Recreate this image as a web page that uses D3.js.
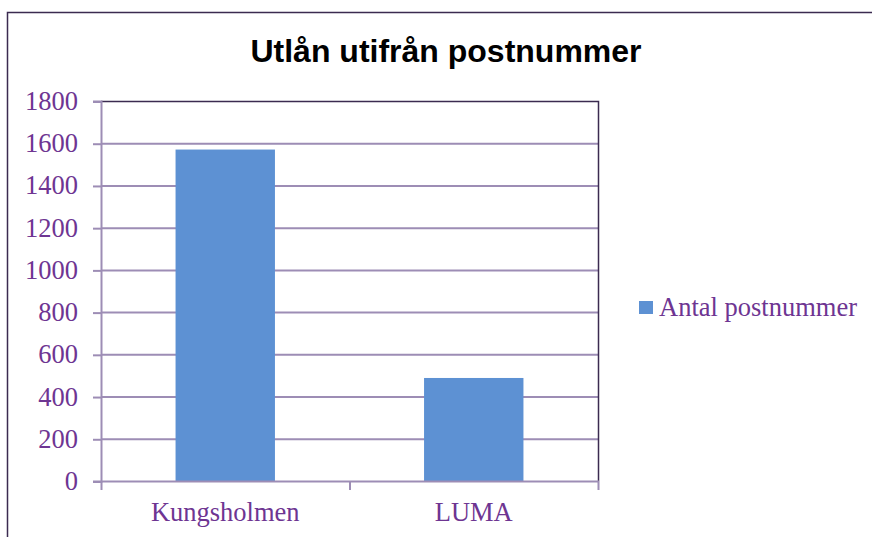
<!DOCTYPE html>
<html>
<head>
<meta charset="utf-8">
<script src="https://cdn.jsdelivr.net/npm/d3@7"></script>
<style>
  body { margin: 0; background: #fff; }
  svg { display: block; }
</style>
</head>
<body>
<div class="viz"></div>
<script>
const title = 'Utlån utifrån postnummer';
const categories = ['Kungsholmen', 'LUMA'];
const values = [1570, 488];
const seriesName = 'Antal postnummer';
const yTicks = [0, 200, 400, 600, 800, 1000, 1200, 1400, 1600, 1800];

const W = 872, H = 537;
const textColor = '#6e3592';
const gridColor = '#9d8db5';
const frameColor = '#3b2b50';
const barColor = '#5d91d3';

const svg = d3.select('.viz').append('svg')
    .attr('width', W)
    .attr('height', H);

// outer chart frame (runs off the right and bottom edge)
svg.append('rect')
    .attr('x', 7.5).attr('y', 12.5)
    .attr('width', W + 20).attr('height', H + 20)
    .attr('fill', 'none')
    .attr('stroke', frameColor)
    .attr('stroke-width', 1.5);

svg.append('text')
    .attr('x', 446).attr('y', 62)
    .attr('text-anchor', 'middle')
    .style('font-family', 'Liberation Sans, Arial, sans-serif')
    .style('font-weight', 'bold')
    .style('font-size', '32px')
    .text(title);

const plot = { left: 101, right: 598, top: 101, bottom: 481 };

const x = d3.scaleBand()
    .domain(categories)
    .range([plot.left, plot.right])
    .paddingInner(0.6)
    .paddingOuter(0.3);

const y = d3.scaleLinear()
    .domain([0, 1800])
    .range([plot.bottom, plot.top]);

const serif = 'Liberation Serif, Times New Roman, serif';
const labelSize = '26.5px';

// gridlines
svg.append('g')
    .selectAll('line')
    .data(yTicks.filter(d => d > 0 && d < 1800))
    .join('line')
    .attr('x1', plot.left).attr('x2', plot.right)
    .attr('y1', d => y(d) + 0.5).attr('y2', d => y(d) + 0.5)
    .attr('stroke', gridColor)
    .attr('stroke-width', 2);

// bars
svg.append('g')
    .selectAll('rect')
    .data(values)
    .join('rect')
    .attr('x', (d, i) => x(categories[i]))
    .attr('y', d => y(d))
    .attr('width', x.bandwidth())
    .attr('height', d => y(0) - y(d))
    .attr('fill', barColor);

// top and right frame of plot area
svg.append('path')
    .attr('d', `M${plot.left},${plot.top + 0.5}H${plot.right + 0.5}V${plot.bottom}`)
    .attr('fill', 'none')
    .attr('stroke', frameColor)
    .attr('stroke-width', 1.5);

// y axis
const yAxis = svg.append('g')
    .attr('transform', `translate(${plot.left},0)`)
    .call(d3.axisLeft(y).tickValues(yTicks).tickFormat(d3.format('d')).tickSize(8).tickPadding(15));
yAxis.select('.domain').attr('stroke', gridColor).attr('stroke-width', 2);
yAxis.selectAll('.tick line').attr('stroke', gridColor).attr('stroke-width', 2)
    .attr('transform', 'translate(0,0.5)');
yAxis.selectAll('.tick text')
    .attr('fill', textColor)
    .style('font-family', serif)
    .style('font-size', labelSize);

// x axis
const xEdges = d3.scaleLinear().domain([0, categories.length]).range([plot.left, plot.right]);
const xAxis = svg.append('g')
    .attr('transform', `translate(0,${plot.bottom})`);
xAxis.append('line')
    .attr('x1', plot.left).attr('x2', plot.right + 1)
    .attr('y1', 0.5).attr('y2', 0.5)
    .attr('stroke', gridColor).attr('stroke-width', 2);
xAxis.selectAll('.edge')
    .data(d3.range(categories.length + 1))
    .join('line')
    .attr('class', 'edge')
    .attr('x1', d => xEdges(d) + 0.5).attr('x2', d => xEdges(d) + 0.5)
    .attr('y1', 0).attr('y2', 9)
    .attr('stroke', gridColor).attr('stroke-width', 2);
xAxis.selectAll('.lab')
    .data(categories)
    .join('text')
    .attr('class', 'lab')
    .attr('x', d => x(d) + x.bandwidth() / 2)
    .attr('y', 40)
    .attr('text-anchor', 'middle')
    .attr('fill', textColor)
    .style('font-family', serif)
    .style('font-size', labelSize)
    .text(d => d);

// legend
const legend = svg.append('g').attr('transform', 'translate(639,301)');
legend.append('rect')
    .attr('width', 14).attr('height', 13)
    .attr('fill', barColor);
legend.append('text')
    .attr('x', 20).attr('y', 15)
    .attr('fill', textColor)
    .style('font-family', serif)
    .style('font-size', labelSize)
    .text(seriesName);
</script>
</body>
</html>
